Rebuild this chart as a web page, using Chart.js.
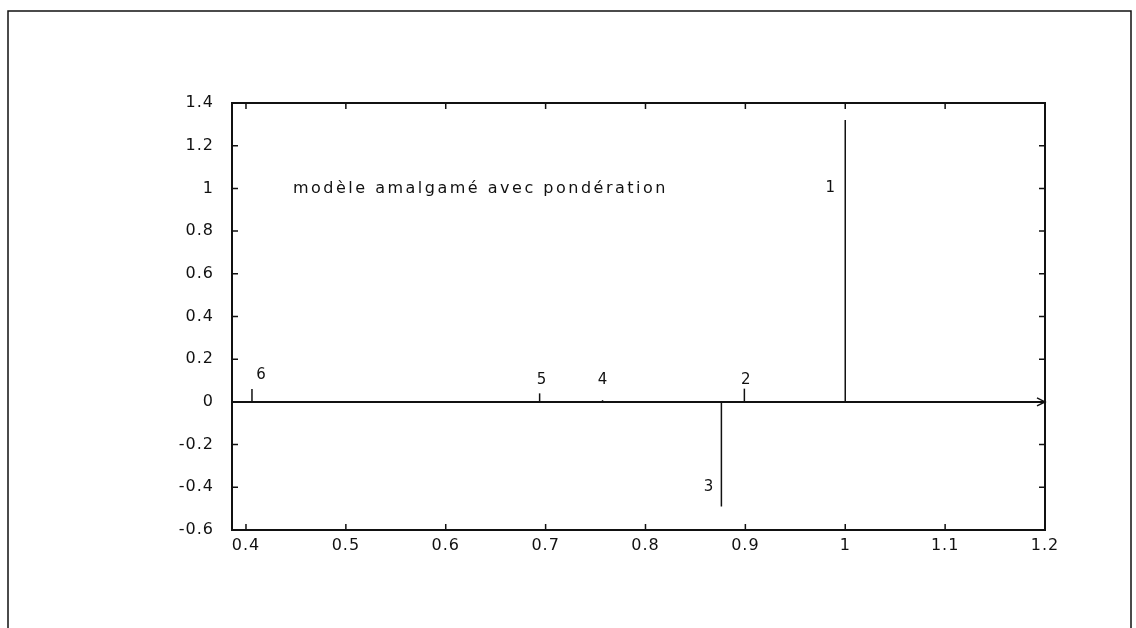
<!DOCTYPE html>
<html>
<head>
<meta charset="utf-8">
<script src="https://cdn.jsdelivr.net/npm/chart.js@4/dist/chart.umd.min.js"></script>
<style>
html,body{margin:0;padding:0;background:#fff;}
#wrap{position:relative;width:1136px;height:628px;}
</style>
</head>
<body>
<div id="wrap"><canvas id="c" width="1136" height="628"></canvas></div>
<script>
// ---- data ----
const stemX = [1.0, 0.899, 0.876, 0.757, 0.694, 0.406];
const stemY = [1.32, 0.062, -0.49, 0.008, 0.04, 0.061];
const stemLabels = ['1', '2', '3', '4', '5', '6'];
const labelX = [0.985, 0.9005, 0.863, 0.757, 0.696, 0.415];
const labelY = [1.0, 0.103, -0.40, 0.10, 0.10, 0.127];
const xTicks = [0.4, 0.5, 0.6, 0.7, 0.8, 0.9, 1, 1.1, 1.2];
const yTicks = [-0.6, -0.4, -0.2, 0, 0.2, 0.4, 0.6, 0.8, 1, 1.2, 1.4];
const xRange = [0.386, 1.2];
const yRange = [-0.6, 1.4];
const annotationText = 'modèle amalgamé avec pondération';
const annotationPos = [0.447, 1.0];

const FONT = '"DejaVu Sans", Arial, sans-serif';

const datasets = [];
// baseline y = 0
datasets.push({
  data: [{x: xRange[0], y: 0}, {x: xRange[1], y: 0}],
  borderColor: '#111', borderWidth: 2, pointRadius: 0, showLine: true, tension: 0
});
stemX.forEach((x, i) => {
  datasets.push({
    data: [{x: x, y: 0}, {x: x, y: stemY[i]}],
    borderColor: '#111', borderWidth: 1.5, pointRadius: 0, showLine: true, tension: 0
  });
});

function fmt(v){ return String(Math.round(v*10)/10); }

const decor = {
  id: 'decor',
  beforeDraw(chart){
    const ctx = chart.ctx;
    ctx.save();
    ctx.fillStyle = '#fff';
    ctx.fillRect(0,0,chart.width,chart.height);
    // outer frame (no bottom edge)
    ctx.strokeStyle = '#111';
    ctx.lineWidth = 1.5;
    ctx.beginPath();
    ctx.moveTo(8, 628);
    ctx.lineTo(8, 11);
    ctx.lineTo(1131, 11);
    ctx.lineTo(1131, 628);
    ctx.stroke();
    ctx.restore();
    // slightly spaced lettering for the tick labels
    ctx.letterSpacing = '1px';
  },
  afterDraw(chart){
    const ctx = chart.ctx;
    const a = chart.chartArea;
    const xs = chart.scales.x, ys = chart.scales.y;
    ctx.save();
    // plot box
    ctx.strokeStyle = '#111';
    ctx.lineWidth = 2;
    ctx.strokeRect(a.left, a.top, a.right - a.left, a.bottom - a.top);
    // inward ticks
    ctx.lineWidth = 1.5;
    const tl = 6;
    xTicks.forEach(v => {
      const p = xs.getPixelForValue(v);
      ctx.beginPath();
      ctx.moveTo(p, a.bottom); ctx.lineTo(p, a.bottom - tl);
      ctx.moveTo(p, a.top); ctx.lineTo(p, a.top + tl);
      ctx.stroke();
    });
    yTicks.forEach(v => {
      const p = ys.getPixelForValue(v);
      ctx.beginPath();
      ctx.moveTo(a.left, p); ctx.lineTo(a.left + tl, p);
      ctx.moveTo(a.right, p); ctx.lineTo(a.right - tl, p);
      ctx.stroke();
    });
    // arrowhead at end of baseline
    const ax = xs.getPixelForValue(xRange[1]);
    const ay = ys.getPixelForValue(0);
    ctx.beginPath();
    ctx.moveTo(ax - 8, ay - 4);
    ctx.lineTo(ax, ay);
    ctx.lineTo(ax - 8, ay + 4);
    ctx.stroke();
    // stem labels
    ctx.fillStyle = '#111';
    ctx.letterSpacing = '0px';
    ctx.font = '15px ' + FONT;
    ctx.textAlign = 'center';
    ctx.textBaseline = 'middle';
    stemLabels.forEach((t, i) => {
      ctx.fillText(t, xs.getPixelForValue(labelX[i]), ys.getPixelForValue(labelY[i]));
    });
    // annotation
    ctx.font = '16px ' + FONT;
    ctx.letterSpacing = '2.5px';
    ctx.textAlign = 'left';
    ctx.fillText(annotationText, xs.getPixelForValue(annotationPos[0]), ys.getPixelForValue(annotationPos[1]));
    ctx.restore();
  }
};

new Chart(document.getElementById('c'), {
  type: 'scatter',
  data: { datasets },
  options: {
    responsive: false,
    animation: false,
    events: [],
    layout: { padding: 0 },
    plugins: { legend: { display: false }, tooltip: { enabled: false } },
    scales: {
      x: {
        type: 'linear', position: 'bottom', min: xRange[0], max: xRange[1],
        afterBuildTicks: s => { s.ticks = xTicks.map(v => ({value: v})); },
        afterFit: s => { s.height = 98; },
        grid: { display: false, drawTicks: false },
        border: { display: false },
        ticks: { color: '#111', font: { family: FONT, size: 16 }, padding: 6, callback: v => fmt(v), maxRotation: 0, autoSkip: false }
      },
      x2: {
        type: 'linear', position: 'top', min: xRange[0], max: xRange[1],
        afterFit: s => { s.height = 103; },
        grid: { display: false, drawTicks: false },
        border: { display: false },
        ticks: { display: false }
      },
      y: {
        type: 'linear', position: 'left', min: yRange[0], max: yRange[1],
        afterBuildTicks: s => { s.ticks = yTicks.map(v => ({value: v})); },
        afterFit: s => { s.width = 232; },
        grid: { display: false, drawTicks: false },
        border: { display: false },
        ticks: { color: '#111', font: { family: FONT, size: 16 }, padding: 18, callback: v => fmt(v), autoSkip: false }
      },
      y2: {
        type: 'linear', position: 'right', min: yRange[0], max: yRange[1],
        afterFit: s => { s.width = 91; },
        grid: { display: false, drawTicks: false },
        border: { display: false },
        ticks: { display: false }
      }
    }
  },
  plugins: [decor]
});
</script>
</body>
</html>
